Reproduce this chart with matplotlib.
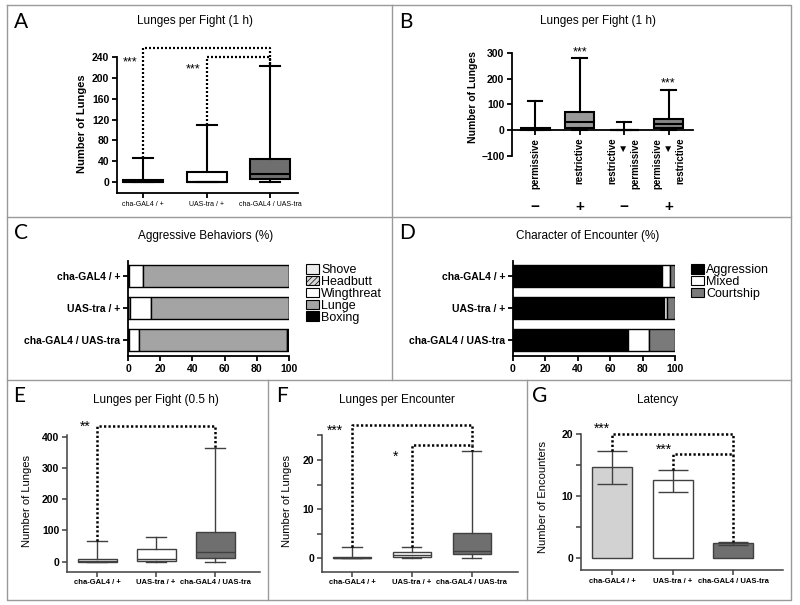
import matplotlib.pyplot as plt
from matplotlib import font_manager
from matplotlib.lines import Line2D
from matplotlib.patches import Patch

plt.rcParams['font.family'] = ['Liberation Sans', 'DejaVu Sans']
plt.rcParams['hatch.linewidth'] = 0.5

names = {f.name for f in font_manager.fontManager.ttflist}
NARROW = 'Liberation Sans Narrow' if 'Liberation Sans Narrow' in names else 'Liberation Sans'

genotypes = ['cha-GAL4 / +', 'UAS-tra / +', 'cha-GAL4 / UAS-tra']

# box stats: (min, q1, median, q3, max)
lunges_1h = [(0, 0, 1, 3, 47), (0, 0, 1, 20, 110), (0, 5, 15, 44, 222)]

temp_labels = ['permissive', 'restrictive',
               'restrictive\n◄  \npermissive', 'permissive\n◄  \nrestrictive']
temp_signs = ['−', '+', '−', '+']
lunges_temp = [(0, 0, 4, 10, 115), (0, 10, 30, 70, 282), (0, 0, 0, 0, 33), (0, 8, 23, 44, 155)]

behaviors = ['Shove', 'Headbutt', 'Wingthreat', 'Lunge', 'Boxing']
shove = [0.4, 1.0, 0.5]
headbutt = [0.0, 0.0, 0.0]
wingthreat = [8.8, 13.3, 6.4]
lunge = [90.8, 85.7, 92.1]
boxing = [0.0, 0.0, 1.0]

encounter_types = ['Aggression', 'Mixed', 'Courtship']
aggression = [92, 93, 71]
mixed = [5, 2, 13]
courtship = [3, 5, 16]

lunges_half_h = [(0, 0, 2, 8, 65), (0, 3, 8, 40, 79), (0, 13, 32, 94, 362)]
lunges_per_enc = [(0, 0, 0.1, 0.2, 2.3), (0, 0.3, 0.6, 1.35, 2.2), (0, 0.8, 1.4, 5.2, 21.8)]

latency_mean = [14.6, 12.5, 2.35]
latency_lo = [12.0, 10.7, 2.1]
latency_hi = [17.3, 14.2, 2.6]

W, H = 800, 605
fig = plt.figure(figsize=(W / 100, H / 100), dpi=100)


def add_ax(x0, y0, x1, y1):
    return fig.add_axes([x0 / W, 1 - y1 / H, (x1 - x0) / W, (y1 - y0) / H])


def ftext(x, y, s, **kw):
    fig.text(x / W, 1 - y / H, s, **kw)


def fline(xs, ys):
    fig.add_artist(Line2D([x / W for x in xs], [1 - y / H for y in ys], color='#9a9a9a', lw=1.0))


def style(ax, color='black', lw=1.3):
    for s in ['top', 'right']:
        ax.spines[s].set_visible(False)
    for s in ['left', 'bottom']:
        ax.spines[s].set_color(color)
        ax.spines[s].set_linewidth(lw)
    ax.tick_params(which='both', color=color, width=lw, length=3.5, direction='out', pad=2)
    ax.set_facecolor('none')


def draw_boxes(ax, rows, labels, pos, width, fills, color, lw):
    st = [dict(whislo=r[0], q1=r[1], med=r[2], q3=r[3], whishi=r[4], label=l)
          for r, l in zip(rows, labels)]
    bp = ax.bxp(st, positions=pos, widths=width, patch_artist=True, showfliers=False,
                boxprops=dict(edgecolor=color, linewidth=lw),
                whiskerprops=dict(color=color, linewidth=lw),
                capprops=dict(color=color, linewidth=lw),
                medianprops=dict(color=color, linewidth=lw))
    for b, c in zip(bp['boxes'], fills):
        b.set_facecolor(c)


def bracket(ax, x0, y0, x1, y1, top, lw=1.6):
    ax.plot([x0, x0, x1, x1], [y0, top, top, y1], color='black', lw=lw,
            ls=(0, (0.9, 0.9)), clip_on=False)


def stars(ax, x, y, s, size=9):
    ax.text(x, y, s, ha='center', va='center', fontsize=size, clip_on=False)


# panel frames
fline([7, 791, 791, 7, 7], [5, 5, 600, 600, 5])
fline([7, 791], [217, 217])
fline([7, 791], [380, 380])
fline([392, 392], [5, 380])
fline([268, 268], [380, 600])
fline([527, 527], [380, 600])

# panel letters and titles
for lt, x, y in [('A', 21, 22), ('B', 406, 22), ('C', 21, 233), ('D', 407, 233),
                 ('E', 19, 396), ('F', 282, 396), ('G', 540, 396)]:
    ftext(x, y, lt, fontsize=15, ha='center', va='center', family=['Lato', 'DejaVu Sans'])
title_kw = dict(fontsize=8.5, ha='center', va='center', family=[NARROW, 'DejaVu Sans'])
ftext(195, 21, 'Lunges per Fight (1 h)', **title_kw)
ftext(598, 21, 'Lunges per Fight (1 h)', **title_kw)
ftext(206, 236, 'Aggressive Behaviors (%)', **title_kw)
ftext(588, 236, 'Character of Encounter (%)', **title_kw)
ftext(156, 400, 'Lunges per Fight (0.5 h)', **title_kw)
ftext(397, 400, 'Lunges per Encounter', **title_kw)
ftext(658, 400, 'Latency', **title_kw)

# ---- A
ax = add_ax(117, 57, 298, 193)
style(ax)
draw_boxes(ax, lunges_1h, genotypes, [1, 2, 3], 0.63, ['white', 'white', '#6f6f6f'], 'black', 1.5)
ax.set_xlim(0.59, 3.44)
ax.set_ylim(-21, 240)
ax.set_yticks(range(0, 241, 40))
ax.tick_params(axis='y', labelsize=7.5)
for t in ax.get_yticklabels():
    t.set_fontweight('bold')
for t in ax.get_xticklabels():
    t.set_fontsize(5)
    t.set_family([NARROW, 'DejaVu Sans'])
ax.set_ylabel('Number of Lunges', fontsize=8, fontweight='bold')
ax.yaxis.set_label_coords(-0.165, 0.51)
bracket(ax, 1, 47, 3, 222, 257)
bracket(ax, 2, 110, 3, 222, 240)
stars(ax, 0.8, 229, '***')
stars(ax, 1.79, 216, '***')

# ---- B
ax = add_ax(512, 53.3, 693, 155.7)
style(ax)
ax.spines['bottom'].set_position(('data', 0))
draw_boxes(ax, lunges_temp, temp_labels, [1, 2, 3, 4], 0.65,
           ['#666666', '#999999', 'white', '#858585'], 'black', 1.5)
ax.set_xlim(0.48, 4.55)
ax.set_ylim(-100, 300)
ax.set_yticks([-100, 0, 100, 200, 300])
ax.tick_params(axis='y', labelsize=7.5)
for t in ax.get_yticklabels():
    t.set_fontweight('bold')
for t in ax.get_xticklabels():
    t.set_rotation(90)
    t.set_fontsize(7)
    t.set_fontweight('bold')
    t.set_multialignment('right')
    t.set_va('top')
ax.set_ylabel('Number of Lunges', fontsize=7.5, fontweight='bold')
ax.yaxis.set_label_coords(-0.19, 0.57)
for i, s in enumerate(temp_signs):
    ax.text(i + 1, -300, s, ha='center', va='center', fontsize=11, fontweight='bold', clip_on=False)
stars(ax, 2, 304, '***')
stars(ax, 4, 181, '***')

# ---- C
ypos = [2, 1, 0]
ax = add_ax(128, 261, 289, 356)
style(ax)
left = [0, 0, 0]
c_fill = ['#ececec', '#d8d8d8', 'white', '#a4a4a4', 'black']
c_hatch = [None, '//////', None, None, None]
for vals, fc, ht in zip([shove, headbutt, wingthreat, lunge, boxing], c_fill, c_hatch):
    ax.barh(ypos, vals, left=left, height=0.69, color=fc, edgecolor='black', lw=1.0, hatch=ht)
    left = [a + b for a, b in zip(left, vals)]
ax.set_xlim(0, 100)
ax.set_ylim(-0.5, 2.47)
ax.set_xticks(range(0, 101, 20))
ax.set_yticks(ypos, genotypes)
ax.tick_params(labelsize=7.5)
for t in ax.get_xticklabels() + ax.get_yticklabels():
    t.set_fontweight('bold')
leg_kw = dict(loc='upper left', frameon=False, fontsize=9, handlelength=1.0, handleheight=0.8,
              handletextpad=0.2, labelspacing=-0.02, borderaxespad=0, borderpad=0)
handles = [Patch(facecolor=fc, edgecolor='black', hatch=ht, lw=0.8) for fc, ht in zip(c_fill, c_hatch)]
fig.legend(handles, behaviors, bbox_to_anchor=(306 / W, 1 - 264 / H), **leg_kw)

# ---- D
ax = add_ax(513, 261, 675, 356)
style(ax)
left = [0, 0, 0]
d_fill = ['black', 'white', '#7a7a7a']
for vals, fc in zip([aggression, mixed, courtship], d_fill):
    ax.barh(ypos, vals, left=left, height=0.69, color=fc, edgecolor='black', lw=1.0)
    left = [a + b for a, b in zip(left, vals)]
ax.set_xlim(0, 100)
ax.set_ylim(-0.5, 2.47)
ax.set_xticks(range(0, 101, 20))
ax.set_yticks(ypos, genotypes)
ax.tick_params(labelsize=7.5)
for t in ax.get_xticklabels() + ax.get_yticklabels():
    t.set_fontweight('bold')
handles = [Patch(facecolor=fc, edgecolor='black', lw=0.8) for fc in d_fill]
fig.legend(handles, encounter_types, bbox_to_anchor=(691 / W, 1 - 264 / H), **leg_kw)

# ---- E
GR = '#404040'
ax = add_ax(67, 435, 260, 571.7)
style(ax, GR, 1.1)
draw_boxes(ax, lunges_half_h, genotypes, [1, 2, 3], 0.66, ['white', 'white', '#6f6f6f'], GR, 1.0)
ax.set_xlim(0.49, 3.76)
ax.set_ylim(-32, 405)
ax.set_yticks(range(0, 401, 100))
ax.tick_params(axis='y', labelsize=7.5)
for t in ax.get_yticklabels():
    t.set_fontweight('bold')
for t in ax.get_xticklabels():
    t.set_fontsize(5.5)
    t.set_fontweight('bold')
ax.set_ylabel('Number of Lunges', fontsize=8)
ax.yaxis.set_label_coords(-0.18, 0.52)
bracket(ax, 1, 65, 3, 362, 435, lw=1.8)
stars(ax, 0.8, 430, '**', size=10)

# ---- F
ax = add_ax(322, 435, 518, 571.7)
style(ax, GR, 1.1)
draw_boxes(ax, lunges_per_enc, genotypes, [1, 2, 3], 0.64, ['black', 'white', '#6f6f6f'], GR, 1.0)
ax.set_xlim(0.5, 3.77)
ax.set_ylim(-2.72, 25.06)
ax.set_yticks([0, 10, 20])
ax.set_yticks([5, 15, 25], minor=True)
ax.tick_params(axis='y', labelsize=7.5)
for t in ax.get_yticklabels():
    t.set_fontweight('bold')
for t in ax.get_xticklabels():
    t.set_fontsize(5.5)
    t.set_fontweight('bold')
ax.set_ylabel('Number of Lunges', fontsize=8)
ax.yaxis.set_label_coords(-0.153, 0.52)
bracket(ax, 1, 2.3, 3, 23, 27, lw=1.8)
bracket(ax, 2, 2.2, 3, 21.8, 23, lw=1.8)
stars(ax, 0.72, 26.0, '***', size=10)
stars(ax, 1.72, 20.6, '*', size=10)

# ---- G
ax = add_ax(581, 434, 783, 570)
style(ax, GR, 1.1)
pos = [1, 2, 3]
ax.bar(pos, latency_mean, width=0.66, color=['#d2d2d2', 'white', '#6f6f6f'], edgecolor=GR, lw=1.0)
ax.errorbar(pos, latency_mean,
            yerr=[[m - lo for m, lo in zip(latency_mean, latency_lo)],
                  [hi - m for m, hi in zip(latency_mean, latency_hi)]],
            fmt='none', ecolor=GR, elinewidth=1.0, capsize=11, capthick=1.0)
ax.set_xlim(0.49, 3.82)
ax.set_ylim(-1.94, 20)
ax.set_xticks(pos, genotypes)
ax.set_yticks([0, 10, 20])
ax.set_yticks([5, 15], minor=True)
ax.tick_params(axis='y', labelsize=7.5)
for t in ax.get_yticklabels():
    t.set_fontweight('bold')
for t in ax.get_xticklabels():
    t.set_fontsize(5.5)
    t.set_fontweight('bold')
ax.set_ylabel('Number of Encounters', fontsize=8)
ax.yaxis.set_label_coords(-0.163, 0.54)
bracket(ax, 1, 17.3, 3, 16.7, 20, lw=1.8)
bracket(ax, 2, 14.2, 3, 2.6, 16.7, lw=1.8)
stars(ax, 0.84, 20.9, '***', size=10)
stars(ax, 1.85, 17.4, '***', size=10)

fig.savefig('out.png', dpi=100)
